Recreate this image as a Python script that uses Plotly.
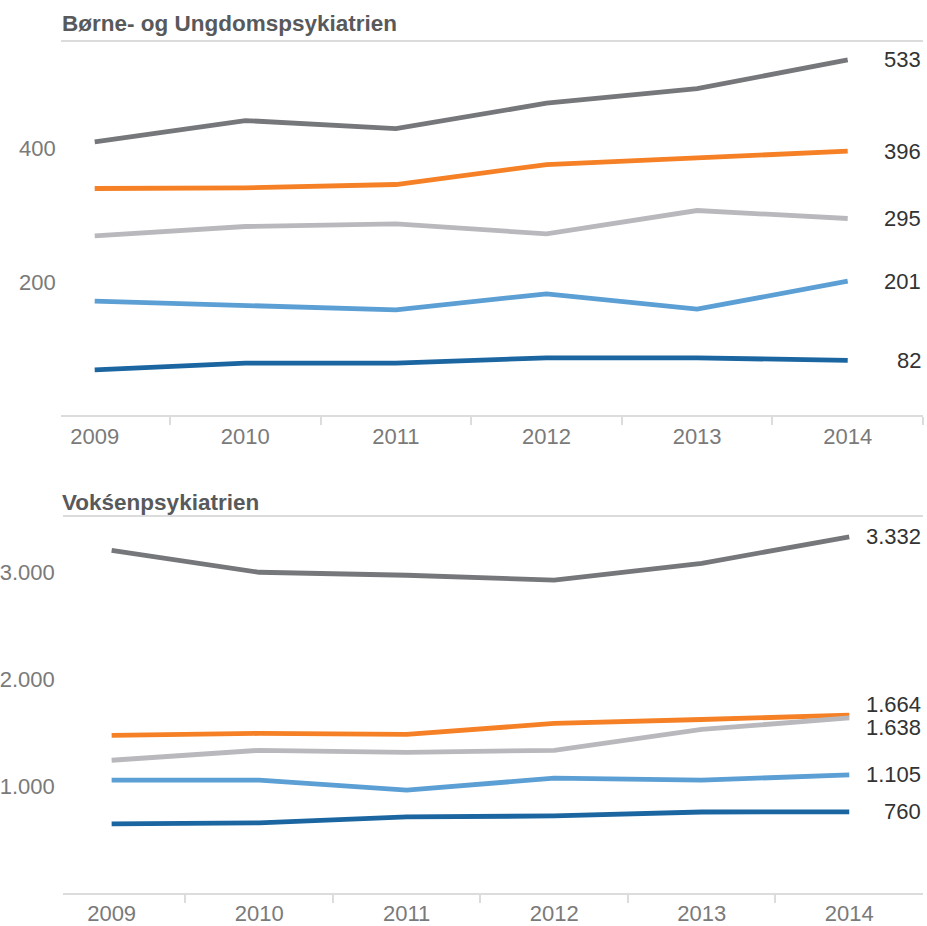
import plotly.graph_objects as go

years = ["2009", "2010", "2011", "2012", "2013", "2014"]

# Børne- og Ungdomspsykiatrien
bu_dark_gray = [410, 442, 430, 468, 490, 533]
bu_orange = [340, 341, 346, 376, 386, 396]
bu_light_gray = [269, 283, 287, 272, 307, 295]
bu_light_blue = [171, 165, 158, 182, 159, 201]
bu_dark_blue = [68, 78, 78, 86, 86, 82]

# Voksenpsykiatrien
vp_dark_gray = [3205, 3000, 2972, 2926, 3084, 3332]
vp_orange = [1474, 1493, 1484, 1586, 1623, 1664]
vp_light_gray = [1242, 1335, 1316, 1335, 1530, 1638]
vp_light_blue = [1056, 1056, 963, 1074, 1056, 1105]
vp_dark_blue = [647, 656, 712, 721, 758, 760]

titles = ["Børne- og Ungdomspsykiatrien", "Vokśenpsykiatrien"]
top_ticks = [200, 400]
bottom_ticks = [1000, 2000, 3000]

colors = ["#76777a", "#f58025", "#b9b9bd", "#5b9fd4", "#1b65a0"]

W, H = 927, 926
FONT = "Liberation Sans, Arial, Helvetica"


def fmt(v):
    return f"{v:,}".replace(",", ".")


fig = go.Figure()

top_series = [bu_dark_gray, bu_orange, bu_light_gray, bu_light_blue, bu_dark_blue]
bot_series = [vp_dark_gray, vp_orange, vp_light_gray, vp_light_blue, vp_dark_blue]

for s, c in zip(top_series, colors):
    fig.add_trace(go.Scatter(x=years, y=s, mode="lines", line=dict(color=c, width=4.8),
                             xaxis="x", yaxis="y", showlegend=False, hoverinfo="x+y"))
for s, c in zip(bot_series, colors):
    fig.add_trace(go.Scatter(x=years, y=s, mode="lines", line=dict(color=c, width=4.8),
                             xaxis="x2", yaxis="y2", showlegend=False, hoverinfo="x+y"))

axis_common = dict(
    type="category", showgrid=False, showline=True, linecolor="#dcdcdc", linewidth=2,
    mirror=True, ticks="outside", tickson="boundaries", ticklen=8, tickcolor="#dcdcdc",
    tickwidth=2, tickfont=dict(family=FONT, size=22, color="#7a7a7a"),
    zeroline=False, fixedrange=True,
)
yaxis_common = dict(
    showgrid=False, showline=False, zeroline=False, ticks="", tickformat=",d",
    tickfont=dict(family=FONT, size=22, color="#7a7a7a"),
    fixedrange=True,
)

fig.update_layout(
    width=W, height=H,
    margin=dict(l=0, r=0, t=0, b=0),
    paper_bgcolor="white", plot_bgcolor="white",
    separators=",.",
    xaxis=dict(axis_common, domain=[58 / W, 923 / W], range=[-0.225, 5.5], anchor="y"),
    yaxis=dict(yaxis_common, domain=[1 - 416 / H, 1 - 42 / H], range=[0, 560],
               tickvals=top_ticks, anchor="x", ticklabelstandoff=4),
    xaxis2=dict(axis_common, domain=[60 / W, 923 / W], range=[-0.331, 5.5], anchor="y2"),
    yaxis2=dict(yaxis_common, domain=[1 - 895 / H, 1 - 518 / H], range=[0, 3518],
                tickvals=bottom_ticks, anchor="x2", ticklabelstandoff=7),
)

# Panel titles
fig.add_annotation(text="<b>" + titles[0] + "</b>", xref="paper", yref="paper",
                   x=57 / W, y=1 - 24 / H, xanchor="left", yanchor="middle", showarrow=False,
                   font=dict(family=FONT, size=22.5, color="#58595b"))
fig.add_annotation(text="<b>" + titles[1] + "</b>", xref="paper", yref="paper",
                   x=57 / W, y=1 - 504 / H, xanchor="left", yanchor="middle", showarrow=False,
                   font=dict(family=FONT, size=22.5, color="#58595b"))

# End labels
top_shifts = [0, 0, 0, 0, 0]
bot_shifts = [0, 11, -10, 0, 0]
for s, sh in zip(top_series, top_shifts):
    fig.add_annotation(text=fmt(s[-1]), xref="x domain", yref="y", x=1, y=s[-1],
                       xanchor="right", yanchor="middle", yshift=sh, showarrow=False,
                       font=dict(family=FONT, size=22, color="#333333"))
for s, sh in zip(bot_series, bot_shifts):
    fig.add_annotation(text=fmt(s[-1]), xref="x2 domain", yref="y2", x=1, y=s[-1],
                       xanchor="right", yanchor="middle", yshift=sh, showarrow=False,
                       font=dict(family=FONT, size=22, color="#333333"))

fig.write_html(
    "out.html",
    config={"displayModeBar": False},
    post_script="document.body.style.margin='0';document.body.style.overflow='hidden';",
)
